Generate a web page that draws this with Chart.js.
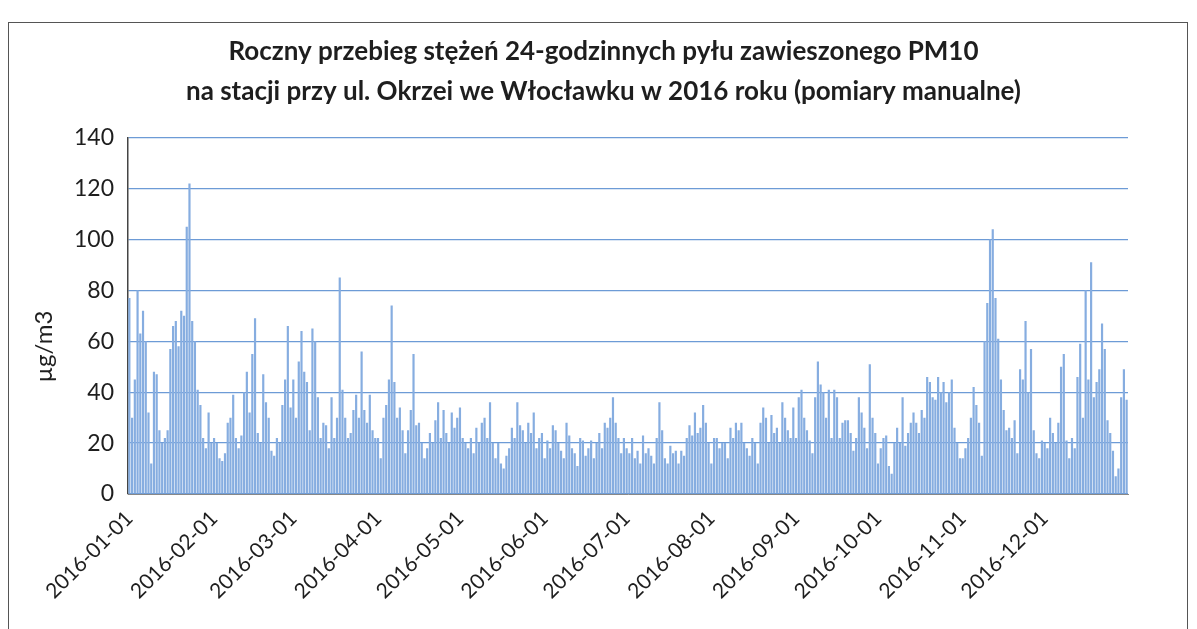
<!DOCTYPE html>
<html><head><meta charset="utf-8">
<script src="https://cdn.jsdelivr.net/npm/chart.js@4.4.0/dist/chart.umd.min.js"></script>
<style>
html,body{margin:0;padding:0;background:#fff;}
#wrap{position:absolute;left:0;top:0;width:1197px;height:629px;}
#frame{position:absolute;left:8px;top:22px;width:1180px;height:620px;border:1px solid #555;box-sizing:border-box;}
</style></head><body>
<div id="wrap"><canvas id="c" width="1197" height="629"></canvas></div>
<div id="frame"></div>
<script>
// Daily PM10 24h concentrations [µg/m3], 2016
const jan=[77,30,45,80,63,72,60,32,12,48,47,25,20,22,25,57,66,68,58,72,70,105,122,68,60,41,35,22,18,32,20];
const feb=[22,20,14,13,16,28,30,39,22,18,23,40,48,32,55,69,24,20,47,36,30,17,15,22,20,35,45,66,34];
const mar=[45,30,52,64,48,44,25,65,60,38,22,28,27,18,38,22,30,85,41,30,22,24,33,39,30,56,33,28,39,25,22];
const apr=[22,14,30,35,45,74,44,30,34,25,16,25,33,55,27,28,20,14,18,24,20,29,36,22,33,24,20,32,26,30];
const may=[34,22,20,18,22,16,26,20,28,30,22,36,20,14,20,12,10,15,18,26,22,36,27,25,20,28,24,32,18,22,24];
const jun=[14,21,18,27,25,20,17,14,28,23,18,16,11,22,21,15,18,21,14,20,24,18,28,26,30,38,28,22,16,22];
const jul=[18,16,22,14,17,12,23,16,18,15,12,22,36,25,14,12,19,16,17,12,17,15,22,27,23,32,24,26,35,28,20];
const aug=[12,22,22,18,20,20,14,26,22,28,25,28,20,18,15,22,20,12,28,34,30,20,31,24,26,20,36,30,25,22,34];
const sep=[22,38,41,30,25,21,16,38,52,43,40,30,41,22,41,38,22,28,29,29,24,17,22,38,32,26,18,51,30,24];
const oct=[12,18,22,23,11,8,20,26,20,38,19,24,28,32,28,24,33,30,46,44,38,37,46,40,44,36,40,45,26,20,14];
const nov=[14,18,22,30,42,35,28,15,60,75,100,104,77,61,45,33,25,26,22,29,16,49,45,68,40,57,25,16,14,21];
const dec=[20,18,30,24,20,28,50,55,21,14,22,18,46,59,30,80,45,91,38,44,49,67,57,29,24,17,7,10,38,49,37];

const months=[jan,feb,mar,apr,may,jun,jul,aug,sep,oct,nov,dec];
const yTicks=[0,20,40,60,80,100,120,140];
const titleLines=['Roczny przebieg stężeń 24-godzinnych pyłu zawieszonego PM10','na stacji przy ul. Okrzei we Włocławku w 2016 roku (pomiary manualne)'];
const yTitle='µg/m3';

const labels=[];const values=[];
months.forEach((m,mi)=>{m.forEach((v,di)=>{labels.push('2016-'+String(mi+1).padStart(2,'0')+'-'+String(di+1).padStart(2,'0'));values.push(v);});});

const FONT='Lato, "Open Sans", sans-serif';
new Chart(document.getElementById('c'),{
  type:'bar',
  data:{labels:labels,datasets:[{data:values,backgroundColor:'#86ade0',barPercentage:0.8,categoryPercentage:1.0}]},
  options:{
    responsive:false,animation:false,
    layout:{padding:{left:30,right:20,top:0,bottom:0}},
    plugins:{
      legend:{display:false},tooltip:{enabled:false},
      title:{display:true,text:titleLines,color:'#1e1e1e',font:{family:FONT,size:26,weight:'bold',lineHeight:1.55},padding:{top:31,bottom:26}}
    },
    scales:{
      x:{
        grid:{display:false},
        border:{display:true,color:'#888',width:1},
        ticks:{autoSkip:false,minRotation:45,maxRotation:45,color:'#1e1e1e',font:{family:FONT,size:21},padding:4,
          callback:function(v){const l=this.getLabelForValue(v);return l.endsWith('-01')?l:null;}},
        afterFit:function(s){s.height=135;}
      },
      y:{
        min:0,max:140,
        afterBuildTicks:function(s){s.ticks=yTicks.map(v=>({value:v}));},
        grid:{color:'#6d9bd6',lineWidth:1.3,drawTicks:false},
        border:{display:true,color:'#444',width:1.5},
        ticks:{color:'#1e1e1e',font:{family:FONT,size:23},padding:14},
        title:{display:true,text:yTitle+'          ',color:'#1e1e1e',font:{family:FONT,size:24},padding:{top:0,bottom:4}},
        afterFit:function(s){s.width=98;}
      },
      yR:{
        position:'right',min:0,max:140,
        grid:{display:false},border:{display:false},ticks:{display:false},
        afterFit:function(s){s.width=49;}
      }
    }
  }
});
</script>
</body></html>
